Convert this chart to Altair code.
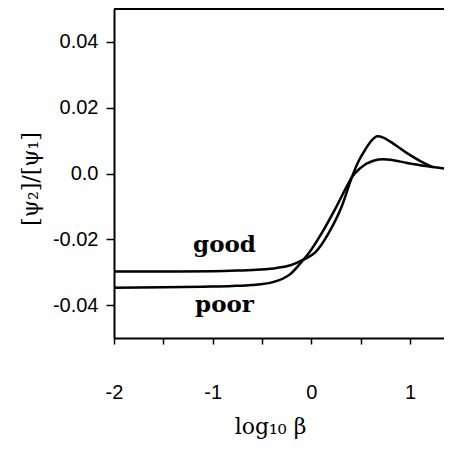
import altair as alt
import pandas as pd

# log10(beta) and [psi2]/[psi1]
good_x = [-2.0, -1.5, -1.0, -0.75, -0.52, -0.35, -0.21, -0.08, 0.04, 0.18, 0.31, 0.41,
          0.48, 0.55, 0.61, 0.67, 0.73, 0.80, 0.97, 1.11, 1.21, 1.23]
good_y = [-0.0298, -0.0298, -0.0297, -0.0295, -0.0292, -0.0287, -0.0279, -0.0262, -0.0240,
          -0.0179, -0.0099, -0.0012, 0.0038, 0.0074, 0.0100, 0.0113, 0.0109, 0.0097, 0.0062,
          0.0037, 0.0022, 0.0019]
poor_x = [-2.0, -1.5, -1.1, -0.8, -0.6, -0.4, -0.21, -0.08, -0.03, 0.11, 0.24, 0.38, 0.41,
          0.50, 0.63, 0.73, 0.80, 0.97, 1.18, 1.38]
poor_y = [-0.0347, -0.0346, -0.0344, -0.0342, -0.0339, -0.0331, -0.0305, -0.0262, -0.0244,
          -0.0179, -0.0109, -0.0028, -0.0012, 0.0017, 0.0039, 0.0043, 0.0042, 0.0032, 0.0022,
          0.0014]

label_text = ["good", "poor"]
label_x = [-0.88, -0.88]
label_y = [-0.0240, -0.0421]

x_ticks = [-2, -1.5, -1, -0.5, 0, 0.5, 1]
y_ticks = [-0.04, -0.02, 0.0, 0.02, 0.04]
x_domain = [-2, 1.345]
y_domain = [-0.05, 0.05]

W, H = 330, 329

df = pd.concat([
    pd.DataFrame({"x": good_x, "y": good_y, "series": "good"}),
    pd.DataFrame({"x": poor_x, "y": poor_y, "series": "poor"}),
])
labels = pd.DataFrame({"x": label_x, "y": label_y, "text": label_text})
top = pd.DataFrame({"y": [y_domain[1]]})

xscale = alt.Scale(domain=x_domain, nice=False, zero=False)
yscale = alt.Scale(domain=y_domain, nice=False, zero=False)

x_axis = alt.Axis(
    values=x_ticks,
    labelExpr="datum.value % 1 == 0 ? (datum.value < 0 ? '-' + format(-datum.value, 'd') : format(datum.value, 'd')) : ''",
    title="log₁₀ β",
    titleFont="DejaVu Serif", titleFontSize=22, titleFontWeight="normal",
    titleX=156, titleY=95, titleBaseline="alphabetic", titleAnchor="start", titleAlign="center",
    labelFont="Liberation Sans", labelFontSize=20, labelPadding=38,
    tickSize=6, tickWidth=1.5, domainWidth=2, labelFlush=False,
)
y_axis = alt.Axis(
    values=y_ticks,
    labelExpr="datum.value == 0 ? '0.0' : (datum.value < 0 ? '-' + format(-datum.value, '.2f') : format(datum.value, '.2f'))",
    title="[ψ₂]/[ψ₁]",
    titleFont="DejaVu Serif", titleFontSize=22, titleFontWeight="normal",
    titleX=-84, titleY=H / 2 + 5, titleBaseline="middle", titleAlign="center",
    labelFont="Liberation Sans", labelFontSize=20, labelPadding=8,
    tickSize=8, tickWidth=1.5, domainWidth=2, labelFlush=False,
)

lines = alt.Chart(df).mark_line(color="black", strokeWidth=2.5, interpolate="monotone", clip=True).encode(
    x=alt.X("x:Q", scale=xscale, axis=x_axis),
    y=alt.Y("y:Q", scale=yscale, axis=y_axis),
    detail="series:N",
)

text = alt.Chart(labels).mark_text(
    font="DejaVu Serif", fontWeight="bold", fontSize=23, baseline="alphabetic", align="center", color="black"
).encode(x=alt.X("x:Q", scale=xscale), y=alt.Y("y:Q", scale=yscale), text="text:N")

frame_top = alt.Chart(top).mark_rule(color="black", strokeWidth=2).encode(
    y=alt.Y("y:Q", scale=yscale), x=alt.value(0), x2=alt.value(W)
)

chart = alt.layer(lines, text, frame_top).properties(
    width=W, height=H,
    autosize=alt.AutoSizeParams(type="none"),
    padding={"left": 106, "top": 1, "right": 0, "bottom": 104},
).configure_view(stroke=None).configure_axis(
    grid=False, domainColor="black", tickColor="black", labelColor="black", titleColor="black"
)

chart.save("out.html", embed_options={"renderer": "svg", "actions": False})
